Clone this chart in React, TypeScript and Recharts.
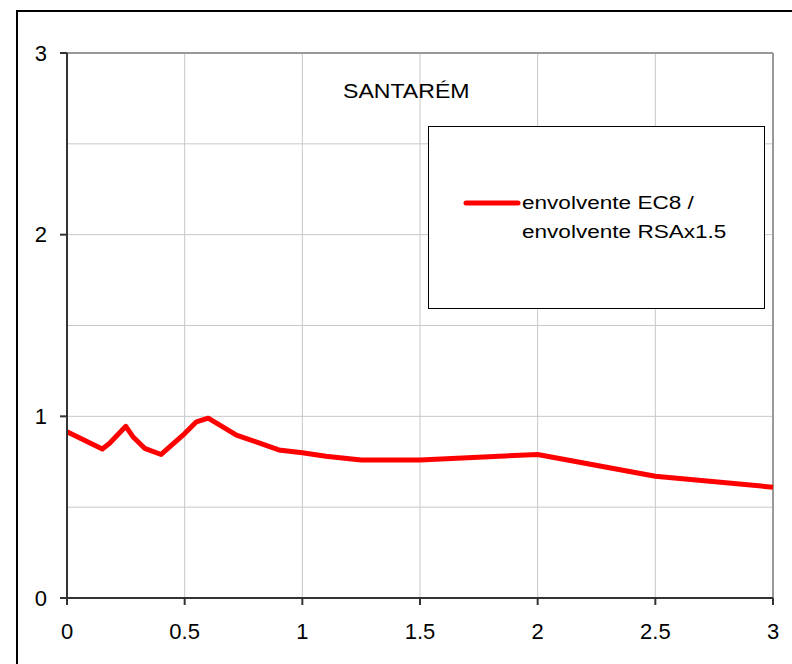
import React from "react";
import {
  LineChart,
  Line,
  XAxis,
  YAxis,
  CartesianGrid,
  ReferenceLine,
  Legend,
  Customized,
} from "recharts";

// período (s) e razão entre envolventes
const periods = [0, 0.15, 0.18, 0.25, 0.28, 0.33, 0.4, 0.5, 0.55, 0.6, 0.72, 0.9, 1.0, 1.1, 1.25, 1.5, 2.0, 2.5, 3.0];
const ratio = [0.915, 0.82, 0.85, 0.945, 0.888, 0.824, 0.79, 0.905, 0.97, 0.99, 0.897, 0.815, 0.8, 0.78, 0.76, 0.76, 0.79, 0.67, 0.61];

const xTicks = [0, 0.5, 1, 1.5, 2, 2.5, 3];
const yTicks = [0, 1, 2, 3];
const yGrid = [0, 0.5, 1, 1.5, 2, 2.5, 3];

const title = "SANTARÉM";
const seriesLabel = ["envolvente EC8 /", "envolvente RSAx1.5"];

const FONT = "'Liberation Sans', Arial, sans-serif";

const data = periods.map((t, i) => ({ t, r: ratio[i] }));

function Title() {
  return (
    <text
      transform="translate(343 98) scale(1.1 1)"
      fontFamily={FONT}
      fontSize={21}
      fill="#000"
    >
      {title}
    </text>
  );
}

function LegendBox() {
  return (
    <div style={{ width: 335, height: 181, border: "1px solid #000", background: "#fff" }}>
      <svg width={335} height={181}>
        <line x1={37} y1={76} x2={89} y2={76} stroke="#ff0000" strokeWidth={5} strokeLinecap="round" />
        {seriesLabel.map((s, i) => (
          <text
            key={s}
            transform={`translate(93 ${82 + i * 29}) scale(1.22 1)`}
            fontFamily={FONT}
            fontSize={18.5}
            fill="#000"
          >
            {s}
          </text>
        ))}
      </svg>
    </div>
  );
}

export default function App() {
  return (
    <div style={{ position: "fixed", left: 0, top: 0, width: 792, height: 664, background: "#fff", overflow: "hidden" }}>
      <div
        style={{
          position: "absolute",
          left: 16,
          top: 10,
          width: 900,
          height: 900,
          borderLeft: "2px solid #000",
          borderTop: "2px solid #000",
          boxSizing: "border-box",
        }}
      />
      <div style={{ position: "absolute", left: 0, top: 0 }}>
        <LineChart width={792} height={664} data={data} margin={{ top: 53, right: 19, bottom: 0, left: 0 }}>
          <CartesianGrid stroke="#c8c8c8" strokeWidth={1} horizontalValues={yGrid} verticalValues={xTicks} />
          <ReferenceLine y={3} stroke="#999" strokeWidth={2} />
          <ReferenceLine x={3} stroke="#999" strokeWidth={2} />
          <XAxis
            dataKey="t"
            type="number"
            domain={[0, 3]}
            ticks={xTicks}
            height={66}
            stroke="#333"
            strokeWidth={2}
            tickSize={7}
            tickMargin={18}
            tick={{ fill: "#000", fontSize: 22, fontFamily: FONT }}
          />
          <YAxis
            type="number"
            domain={[0, 3]}
            ticks={yTicks}
            width={67}
            stroke="#333"
            strokeWidth={2}
            tickSize={7}
            tickMargin={13}
            tick={{ fill: "#000", fontSize: 22, fontFamily: FONT }}
          />
          <Line
            dataKey="r"
            type="linear"
            stroke="#ff0000"
            strokeWidth={5}
            dot={false}
            isAnimationActive={false}
            strokeLinejoin="round"
          />
          <Legend
            layout="vertical"
            align="center"
            verticalAlign="middle"
            content={() => <LegendBox />}
            wrapperStyle={{ position: "absolute", left: 428, top: 126, width: 337, height: 183 }}
          />
          <Customized component={Title} />
        </LineChart>
      </div>
    </div>
  );
}
